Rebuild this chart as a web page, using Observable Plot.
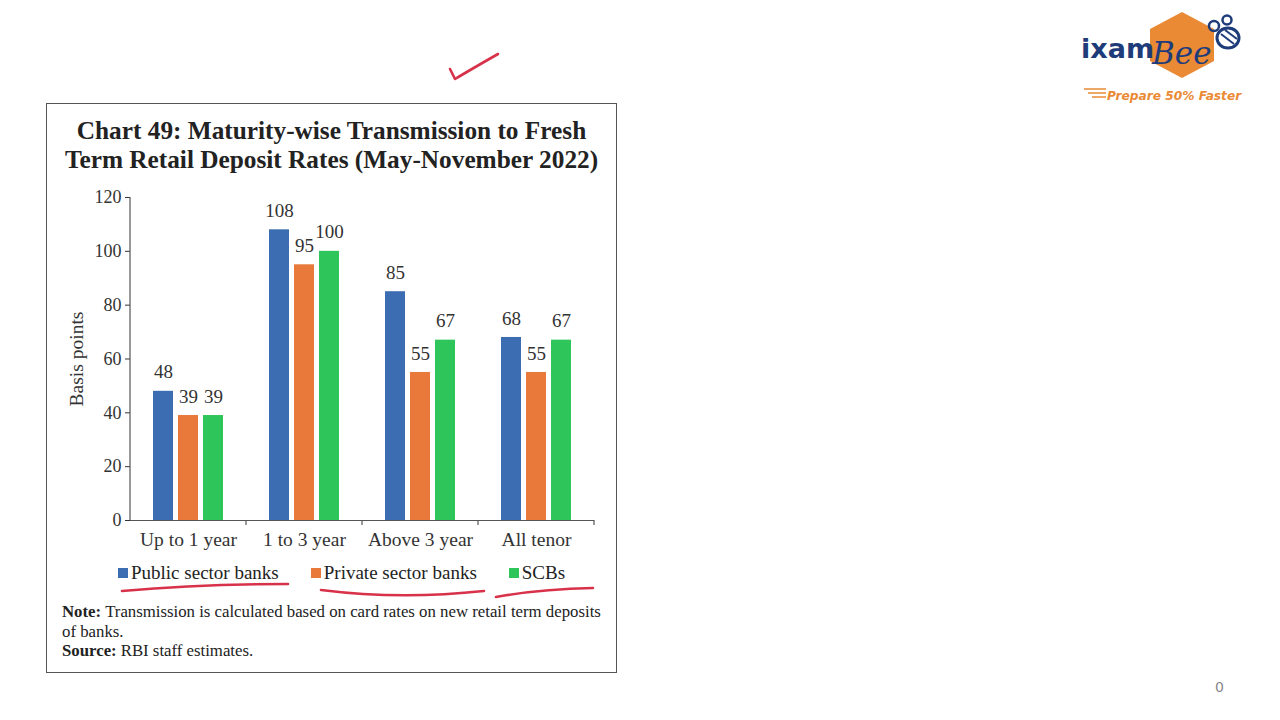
<!DOCTYPE html>
<html><head><meta charset="utf-8">
<script src="https://cdn.jsdelivr.net/npm/d3@7"></script>
<script src="https://cdn.jsdelivr.net/npm/@observablehq/plot@0.6"></script>
<style>
body{margin:0;width:1280px;height:720px;background:#fff;position:relative;overflow:hidden;font-family:"Liberation Serif",serif;color:#222;}
#box{position:absolute;left:46px;top:103px;width:569px;height:568px;border:1px solid #555;}
#title{position:absolute;left:46px;top:116px;width:571px;text-align:center;font-weight:bold;font-size:25.3px;line-height:29px;color:#222;}
#chart{position:absolute;left:46px;top:185px;}
#chart [aria-label^="fx-axis"]{font-size:19.5px;}
#chart [aria-label^="y-axis label"]{font-size:19.5px;}
#legend{position:absolute;left:118px;top:562px;display:flex;gap:32px;font-size:19px;line-height:22px;color:#222;}
#legend .it{display:flex;align-items:center;}
#legend .sw{width:10px;height:10px;margin-right:3px;}
#note{position:absolute;left:62px;top:602px;width:560px;font-size:16.8px;line-height:19.5px;color:#222;}
#note b{margin-right:4px;}
#pg{position:absolute;left:1215px;top:679px;font-family:"DejaVu Sans",sans-serif;font-size:14px;color:#888;}
svg.ov{position:absolute;left:0;top:0;pointer-events:none;}
</style></head><body>
<div id="box"></div>
<div id="title">Chart 49: Maturity-wise Transmission to Fresh<br>Term Retail Deposit Rates (May-November 2022)</div>
<div id="chart"></div>
<div id="legend"></div>
<div id="note"><b>Note:</b>Transmission is calculated based on card rates on new retail term deposits<br>of banks.<br><b>Source:</b>RBI staff estimates.</div>
<div id="pg">0</div>
<svg class="ov" width="1280" height="720">
  <g fill="none" stroke="#d8324b" stroke-width="2.6" stroke-linecap="round" stroke-linejoin="round">
    <path d="M450,69 L455,79 Q470,70 498,54"/>
    <path d="M122,591 Q200,584 288,584"/>
    <path d="M321,590 Q400,600 484,591"/>
    <path d="M496,597 Q540,589 593,588"/>
  </g>
  <g>
    <polygon points="1182,12 1214,29 1214,61 1182,78 1150,61 1150,29" fill="#ea8a35"/>
    <text x="1081" y="58" font-family="DejaVu Sans" font-weight="bold" font-size="27" fill="#1f3c7a">ixam</text>
    <text x="1152" y="64" font-family="DejaVu Serif" font-style="italic" font-size="31" fill="#1f3c7a">Bee</text>
    <ellipse cx="1228" cy="38" rx="11" ry="10" fill="none" stroke="#1f3c7a" stroke-width="3"/>
    <line x1="1221" y1="34" x2="1234" y2="44" stroke="#1f3c7a" stroke-width="2"/>
    <line x1="1225" y1="30" x2="1237" y2="39" stroke="#1f3c7a" stroke-width="2"/>
    <circle cx="1214" cy="26" r="5" fill="none" stroke="#1f3c7a" stroke-width="2.5"/>
    <circle cx="1227" cy="20" r="4.5" fill="none" stroke="#1f3c7a" stroke-width="2.5"/>
    <g stroke="#ea8a35" stroke-width="1.5">
      <line x1="1084" y1="89" x2="1106" y2="89"/><line x1="1088" y1="93" x2="1106" y2="93"/><line x1="1092" y1="97" x2="1106" y2="97"/>
    </g>
    <text x="1107" y="100" font-family="DejaVu Sans" font-weight="bold" font-style="italic" font-size="12.2" fill="#ea8a35">Prepare 50% Faster</text>
  </g>
</svg>
<script>
const categories = ["Up to 1 year", "1 to 3 year", "Above 3 year", "All tenor"];
const series = ["Public sector banks", "Private sector banks", "SCBs"];
const publicBanks = [48, 108, 85, 68];
const privateBanks = [39, 95, 55, 55];
const scbs = [39, 100, 67, 67];
const colors = ["#3c6db3", "#e8793a", "#2ec55a"];
const yTicks = [0, 20, 40, 60, 80, 100, 120];

const seriesValues = [publicBanks, privateBanks, scbs];
const data = [];
categories.forEach((c, i) => series.forEach((s, j) => data.push({category: c, series: s, value: seriesValues[j][i]})));

const plot = Plot.plot({
  width: 570,
  height: 380,
  marginLeft: 82,
  marginRight: 21,
  marginTop: 12,
  marginBottom: 45,
  style: {fontFamily: "Liberation Serif, serif", fontSize: "18px", color: "#333", background: "transparent"},
  fx: {domain: categories, padding: 0, axis: "bottom", label: null, tickSize: 0, tickPadding: 12},
  x: {domain: series, axis: null, paddingInner: 0.21, paddingOuter: 0.85},
  y: {domain: [0, 120], ticks: yTicks, tickSize: 5, tickPadding: 4, label: "Basis points", labelAnchor: "center", labelOffset: 61, labelArrow: false, grid: false},
  color: {domain: series, range: colors},
  marks: [
    Plot.barY(data, {fx: "category", x: "series", y: "value", fill: "series"}),
    Plot.text(data, {fx: "category", x: "series", y: "value", text: d => String(d.value), dy: -19, fontSize: 19, fill: "#333"}),
    Plot.ruleY([0], {stroke: "#555", strokeWidth: 1.2})
  ]
});
document.getElementById("chart").appendChild(plot);

// axis line and category boundary ticks from the library's scales
const svgEl = plot.tagName.toLowerCase() === "svg" ? plot : plot.querySelector("svg");
const svg = d3.select(svgEl);
const fx = plot.scale("fx"), y = plot.scale("y");
const y0 = y.apply(0), yTop = y.apply(yTicks[yTicks.length - 1]);
const x0 = fx.apply(categories[0]);
svg.append("line").attr("x1", x0).attr("x2", x0).attr("y1", y0).attr("y2", yTop).attr("stroke", "#555").attr("stroke-width", 1.2);
categories.forEach(c => {
  const xr = fx.apply(c) + fx.bandwidth;
  svg.append("line").attr("x1", xr).attr("x2", xr).attr("y1", y0).attr("y2", y0 + 5).attr("stroke", "#555").attr("stroke-width", 1.2);
});

const legend = d3.select("#legend");
series.forEach((s, j) => {
  const it = legend.append("div").attr("class", "it");
  it.append("div").attr("class", "sw").style("background", colors[j]);
  it.append("span").text(s);
});
</script>
</body></html>
